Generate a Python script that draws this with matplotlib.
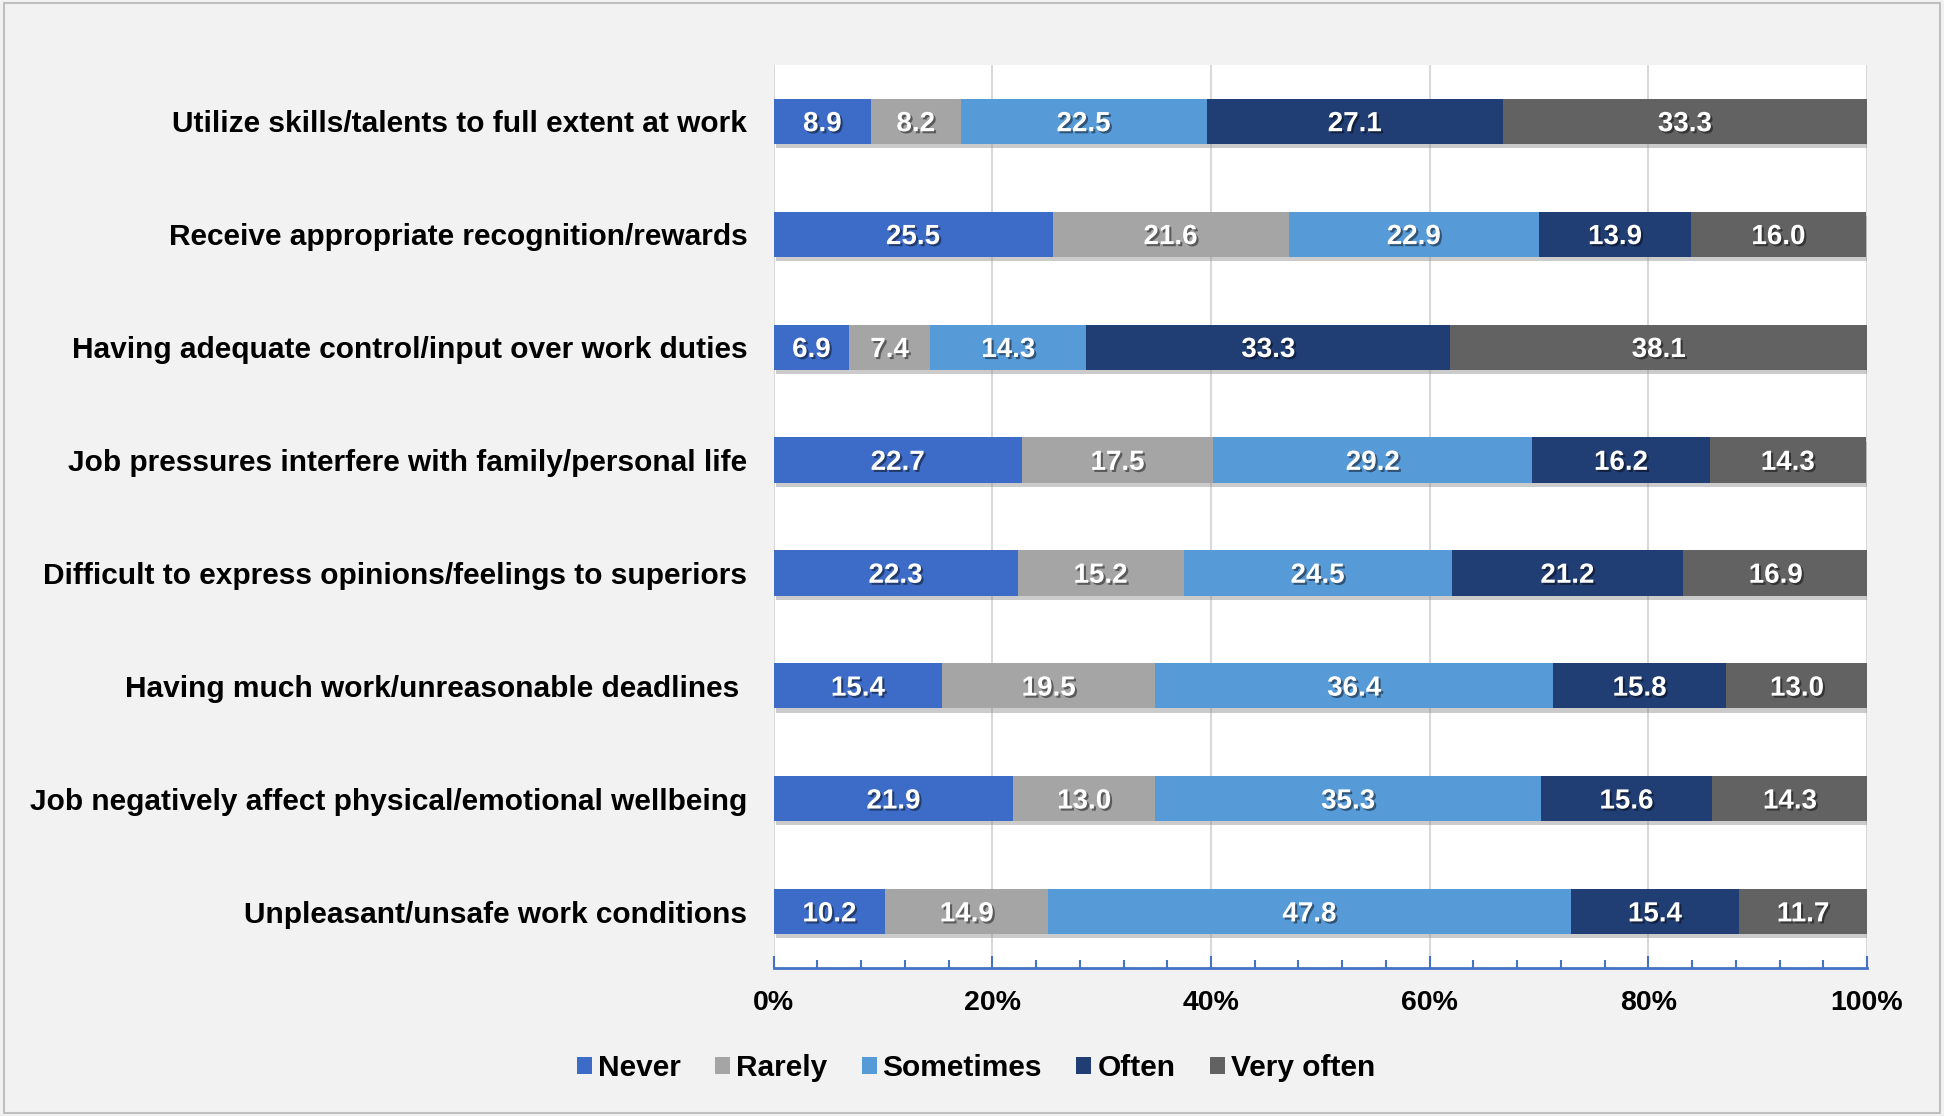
import matplotlib
matplotlib.use("Agg")
import matplotlib.pyplot as plt
import matplotlib.patheffects as pe
from matplotlib.patches import Rectangle
from matplotlib.ticker import MultipleLocator, FuncFormatter
import numpy as np

plt.rcParams['font.family'] = ['Liberation Sans', 'DejaVu Sans']

categories = [
    "Utilize skills/talents to full extent at work",
    "Receive appropriate recognition/rewards",
    "Having adequate control/input over work duties",
    "Job pressures interfere with family/personal life",
    "Difficult to express opinions/feelings to superiors",
    "Having much work/unreasonable deadlines ",
    "Job negatively affect physical/emotional wellbeing",
    "Unpleasant/unsafe work conditions",
]
series = ["Never", "Rarely", "Sometimes", "Often", "Very often"]
never = [8.9, 25.5, 6.9, 22.7, 22.3, 15.4, 21.9, 10.2]
rarely = [8.2, 21.6, 7.4, 17.5, 15.2, 19.5, 13.0, 14.9]
sometimes = [22.5, 22.9, 14.3, 29.2, 24.5, 36.4, 35.3, 47.8]
often = [27.1, 13.9, 33.3, 16.2, 21.2, 15.8, 15.6, 15.4]
very_often = [33.3, 16.0, 38.1, 14.3, 16.9, 13.0, 14.3, 11.7]
colors = ["#3d6cc8", "#a5a5a5", "#579ad8", "#203d74", "#626262"]

values = [never, rarely, sometimes, often, very_often]

fig = plt.figure(figsize=(19.44, 11.16), dpi=100, facecolor="#f2f2f2")
fig.patches.append(Rectangle((0.002, 0.003), 0.996, 0.994, transform=fig.transFigure,
                             fill=False, edgecolor="#bfbfbf", linewidth=1.5))
ax = fig.add_axes([0.398, 0.1326, 0.5624, 0.8092])
ax.set_facecolor("white")

y = np.arange(len(categories))
left = np.zeros(len(categories))
shadow = [pe.SimplePatchShadow(offset=(2, -3), shadow_rgbFace="#8c8c8c", alpha=0.45), pe.Normal()]
txt_fx = [pe.withSimplePatchShadow(offset=(1.5, -1.5), shadow_rgbFace="#000000", alpha=0.45)]
for name, vals, col in zip(series, values, colors):
    vals = np.array(vals)
    bars = ax.barh(y, vals, left=left, height=0.4, color=col, label=name, zorder=3)
    for b in bars:
        b.set_path_effects(shadow)
    for yi, l, v in zip(y, left, vals):
        ax.text(l + v / 2, yi + 0.025, f"{v:.1f}", ha="center", va="center", color="white",
                fontsize=20, fontweight="bold", zorder=5, path_effects=txt_fx)
    left += vals

ax.set_xlim(0, 100)
ax.set_ylim(len(categories) - 0.5, -0.5)
ax.set_yticks(y)
ax.set_yticklabels(categories, fontsize=21.5, fontweight="bold")
ax.tick_params(axis="y", length=0, pad=19)
ax.xaxis.set_major_locator(MultipleLocator(20))
ax.xaxis.set_minor_locator(MultipleLocator(4))
ax.xaxis.set_major_formatter(FuncFormatter(lambda v, p: f"{v:.0f}%"))
ax.tick_params(axis="x", which="major", direction="in", length=9, width=1.5, color="#4472c4",
               labelsize=20.5, pad=16)
ax.tick_params(axis="x", which="minor", direction="in", length=6, width=1.5, color="#4472c4")
for lab in ax.get_xticklabels():
    lab.set_fontweight("bold")
ax.grid(axis="x", which="major", color="#d9d9d9", linewidth=1.5, zorder=0)
for s in ["top", "right", "left"]:
    ax.spines[s].set_visible(False)
ax.spines["bottom"].set_color("#4472c4")
ax.spines["bottom"].set_linewidth(2)

leg = fig.legend(loc="center", bbox_to_anchor=(0.502, 0.043), ncol=5, frameon=False,
                 prop={"size": 21.5, "weight": "bold"}, handlelength=0.5, handleheight=0.5,
                 handletextpad=0.2, columnspacing=1.15)
for h in leg.legend_handles:
    h.set_path_effects([])

fig.savefig("out.png", dpi=100, facecolor=fig.get_facecolor())
